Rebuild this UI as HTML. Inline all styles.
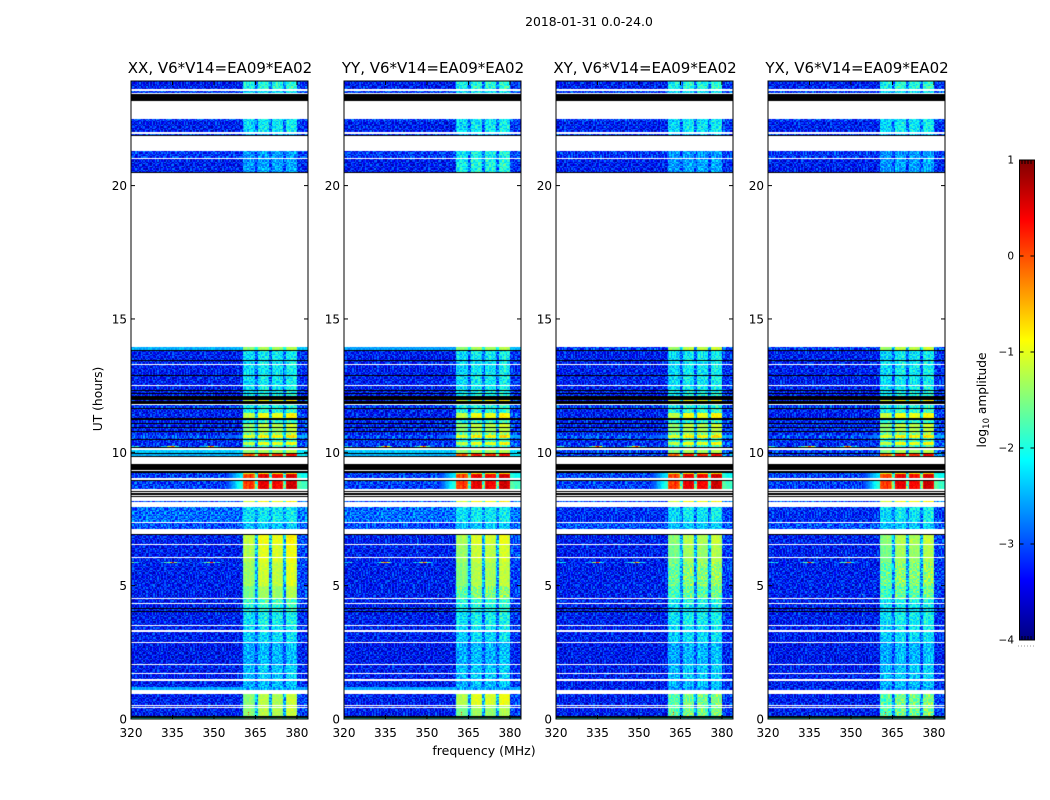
<!DOCTYPE html>
<html lang="en">
<head>
<meta charset="utf-8">
<title>2018-01-31 0.0-24.0</title>
<style>
html,body{margin:0;padding:0;background:#fff;}
#figure{position:relative;width:1050px;height:800px;overflow:hidden;background:#fff;}
#figure canvas{position:absolute;display:block;}
#overlay{position:absolute;left:0;top:0;}
text{font-family:"DejaVu Sans","Liberation Sans",sans-serif;fill:#000;}
</style>
</head>
<body>
<div id="figure">
<svg id="overlay" width="1050" height="800" viewBox="0 0 1050 800">
<text x="589" y="26" text-anchor="middle" font-size="12.4">2018-01-31 0.0-24.0</text>
<text x="484" y="755" text-anchor="middle" font-size="12.5">frequency (MHz)</text>
<text transform="translate(102 399) rotate(-90)" text-anchor="middle" font-size="12.3">UT (hours)</text>
<text transform="translate(986 400) rotate(-90)" text-anchor="middle" font-size="12.2">log<tspan font-size="8.5" dy="3">10</tspan><tspan dy="-3"> amplitude</tspan></text>
</svg>
</div>
<script>
/* Time bands, top to bottom: edges in UT hours, null = no data (white), -9 = flagged (black) */
var bandEdges = [23.92,23.62,23.53,23.47,23.43,23.18,22.50,22.44,22.01,21.95,21.90,
21.86,21.30,21.04,21.00,20.51,20.47,13.94,13.84,13.80,13.46,
13.42,13.31,13.27,12.90,12.86,12.54,12.50,12.34,12.30,12.22,
12.19,12.11,11.96,11.92,11.81,11.77,11.66,11.62,11.47,11.29,
11.21,11.09,11.05,10.94,10.90,10.80,10.76,10.65,10.55,10.51,
10.46,10.40,10.27,10.24,10.20,10.15,10.09,9.96,9.94,9.86,
9.83,9.57,9.34,9.30,9.21,9.17,9.04,8.95,8.92,8.61,
8.55,8.51,8.49,8.40,8.36,8.34,8.19,8.13,7.96,7.40,
7.35,7.12,6.95,6.91,6.56,6.51,6.06,6.03,5.88,5.85,
5.00,4.54,4.50,4.35,4.31,4.15,4.11,4.05,4.01,3.52,
3.49,3.34,3.26,2.89,2.85,2.06,2.02,1.72,1.69,1.50,
1.44,1.21,1.09,0.94,0.52,0.49,0.45,0.41,0.12,0.10,
0.07,0.05,0];
/* Background log10 amplitude of each time band */
var bandBase = [-3.3,null,-3.1,null,-9,null,-3.1,-3.3,null,-3.1,
-9,null,-3.15,null,-3.3,-9,null,-2.5,-9,-3.3,
-9,-3.3,null,-3.3,-9,-3.3,null,-3.3,-9,-3.3,
-9,-3.3,-9,-3.3,-9,null,-3.1,-9,-3.3,-3.3,
-9,-3.25,-9,-3.25,-9,-3.25,-9,-3.25,-3.0,-3.2,
-9,-3.2,-3.2,-3.2,-3.2,-9,null,-2.4,-9,-2.5,
-9,null,-9,null,-9,-3.1,-3.1,null,-9,-3.1,
null,-9,null,-9,null,-9,null,-3.0,null,-2.85,
null,-3.0,null,-9,-3.3,null,-3.3,null,-3.3,-3.3,
-3.3,-3.3,null,-3.3,null,-3.3,-9,-3.3,-9,-3.3,
null,-3.3,null,-3.3,null,-3.35,null,-3.3,null,-3.3,
null,-3.3,-2.55,null,-3.3,null,-3.3,null,-3.3,-9,
null,-9,-1.9];
/* Log10 amplitude inside the 360-380 MHz signal band, XX panel */
var bandSignal = [-1.95,null,-2.2,null,null,null,-2.2,-2.15,null,-2.5,
null,null,-2.6,null,-2.55,null,null,-1.3,null,-2.15,
null,-2.15,null,-2.15,null,-2.15,null,-2.1,null,-2.1,
null,-2.0,null,-0.9,null,null,-2.0,null,-1.95,-0.95,
null,-1.9,null,-1.2,null,-1.3,null,-1.4,-0.8,-2.0,
null,-1.8,-0.95,-1.8,-1.8,null,null,-1.3,null,0.2,
null,null,null,null,null,-0.8,0.4,null,null,0.45,
null,null,null,null,null,null,null,-0.9,null,-2.15,
null,-2.35,null,null,-0.95,null,-1.05,null,-1.05,-1.1,
-1.15,-1.35,null,-1.75,null,-1.85,null,-1.95,null,-2.1,
null,-2.2,null,-2.25,null,-2.45,null,-2.35,null,-2.35,
null,-2.4,-2.55,null,-1.25,null,-1.25,null,-1.25,null,
null,null,-1.6];
/* Per-panel corrections: band (by its UT start), panel index, base, signal (null = keep) */
var overrideStarts = [0.94,0.52,0.45,21.30,21.00,
  13.94,13.94,10.09,10.09,9.94,9.94,1.21,1.21,7.96,7.96,13.94];
var overridePanels = [1,1,1,1,1,
  2,3,2,3,2,3,2,3,2,3,1];
var overrideBases = [null,null,null,null,null,
  -3.1,-3.1,-3.1,-3.1,-3.1,-3.1,-3.3,-3.3,-3.2,-3.2,-2.6];
var overrideSignals = [-1.05,-1.05,-1.05,-2.1,-2.0,
  -1.2,-1.2,null,null,null,null,null,null,null,null,null];
/* Bands where energy spills out of the signal band */
var skirtBandStarts = [10.65,9.21,9.17,8.92];
var skirtLevels = [-2.7,-2.2,-2.2,-1.9];
/* Narrow-band interference rows: band starts, then boost per channel from 320 MHz */
var streakBandStarts = [5.88,10.24];
var streakBoost = [1.2,1.2,1.1,1,1,.9,.6,.2,0,0,0,0,0,0,0,0,0,0,0,0,
.1,.2,.4,.7,1,1.3,1.5,1.8,2.2,3.2,3.6,2.4,1.8,1.2,.8,.4,0,0,0,0,
0,.5,.6,0,0,0,0,0,.2,.3,.5,.7,1,1.2,1.5,1.8,2.4,3.4,3.2,2.2,
1.6,1,.9,.8,.4,.2,0,0,0,0,.3,.4,0,0,0,0,0,0,0,0,0];
/* Relative signal per 0.5 MHz channel, from 320 MHz */
var channelSignal = [0,0,0,0,0,0,0,0,0,0,0,0,0,0,0,0,0,0,0,0,
0,0,0,0,0,0,0,0,0,0,0,0,0,0,0,0,0,0,0,0,
0,0,0,0,0,0,0,0,0,0,0,0,0,0,0,0,0,0,0,0,
0,0,0,0,0,0,0,0,0,0,0,0,0,0,0,0,0,0,0,0,0,
.85,.9,.92,.88,.92,.95,.9,.88,.8,
.38,.38,
.98,1.02,1.02,1,1.02,1.03,1,.98,
.38,.38,
.95,1,1,.98,.98,.98,.98,.93,
.38,.38,
1,1.05,1.06,1.06,1.05,1.05,1.03,.98,
.1,.12,.12,.1,.1,.12,.12,.1];
/* Relative spill level per channel */
var channelSkirt = [0,0,0,0,0,0,0,0,0,0,0,0,0,0,0,0,0,0,0,0,
0,0,0,0,0,0,0,0,0,0,0,0,0,0,0,0,0,0,0,0,
0,0,0,0,0,0,0,0,0,0,0,0,0,0,0,0,0,0,0,0,
0,0,0,0,0,0,0,0,0,.05,.1,.2,.3,.4,.5,.6,.7,.8,.9,.95,1,
0,0,0,0,0,0,0,0,0,0,0,0,0,0,0,0,0,0,0,
0,0,0,0,0,0,0,0,0,0,0,0,0,0,0,0,0,0,0,0,
.85,.85,.8,.8,.75,.75,.7,.7];
/* Isolated hot cells */
var hotFreqs = [362.2,362.2,354,354,354,346.4,346.4,346.4];
var hotTimes = [0.26,0.2,4.7,3.9,3.6,6.8,6.6,6.25];
var hotLevels = [0.2,-0.2,-1.6,-1.6,-2.0,-1.8,-1.8,-1.8];
/* Hand-typed cell-to-cell texture tile (0-9), standing in for noise too fine to read per cell */
var textureTile = ["37158204962715380649271","82046391527048163957204","15739062841639270518346",
"60482715936048291735180","29517380462917506384926","74063958120483695172048",
"41892067351826940573612","93650412789360127485093","08217563940271856309481",
"56398120764935018276459","21745938062184739560127","69083471526740392185763",
"34916205873052681497230","87250649318529740361958","12674083952716038495276",
"95308762140483925617084","48162539706291473805619"];
var panelTitles = ["XX, V6*V14=EA09*EA02","YY, V6*V14=EA09*EA02","XY, V6*V14=EA09*EA02","YX, V6*V14=EA09*EA02"];
var panelSignalOffset = [0,-0.12,-0.3,-0.3];
var freqTicks = [320,335,350,365,380];
var timeTicks = [0,5,10,15,20];
var colorbarTicks = [1,0,-1,-2,-3,-4];

var SVGNS = "http://www.w3.org/2000/svg";
var figure = document.getElementById("figure");
var overlay = document.getElementById("overlay");
var panelLefts = [131,344,556,768];
var panelWidth = 177, plotTop = 81, plotBottom = 719;
var FMIN = 320, FMAX = 384, VMIN = -4, VMAX = 1;
var OFFSET_BELOW_UT = 8;

function clamp01(v){return Math.max(0,Math.min(1,v));}
function jet(t){
  var r = clamp01(1.5-Math.abs(4*t-3)), g = clamp01(1.5-Math.abs(4*t-2)), b = clamp01(1.5-Math.abs(4*t-1));
  return "rgb("+Math.round(r*255)+","+Math.round(g*255)+","+Math.round(b*255)+")";
}
function levelColor(v){return jet(clamp01((v-VMIN)/(VMAX-VMIN)));}
function xScale(f,left){return left+(f-FMIN)/(FMAX-FMIN)*panelWidth;}
function yScale(ut){return plotBottom-ut*26.67;}
function colorbarY(v){return 160+(VMAX-v)/(VMAX-VMIN)*480;}
function svgEl(tag,attrs){
  var el = document.createElementNS(SVGNS,tag);
  for(var k in attrs){el.setAttribute(k,attrs[k]);}
  return el;
}
function tickLine(x1,y1,x2,y2){
  return svgEl("line",{x1:x1,y1:y1,x2:x2,y2:y2,stroke:"#000","stroke-width":1});
}

function drawHeatmap(ctx,p){
  for(var b=0;b<bandBase.length;b++){
    var base = bandBase[b];
    if(base===null){continue;}
    var start = bandEdges[b];
    var y0 = Math.round(yScale(start)), y1 = Math.max(y0+1,Math.round(yScale(bandEdges[b+1])));
    if(base===-9){
      ctx.fillStyle="#000";
      ctx.fillRect(0,y0-plotTop,panelWidth,y1-y0);
      continue;
    }
    var signal = bandSignal[b];
    if(start<OFFSET_BELOW_UT&&signal>-2.1){signal+=panelSignalOffset[p];}
    for(var o=0;o<overrideStarts.length;o++){
      if(overrideStarts[o]===start&&overridePanels[o]===p){
        if(overrideBases[o]!==null){base=overrideBases[o];}
        if(overrideSignals[o]!==null){signal=overrideSignals[o];}
      }
    }
    var sk = skirtBandStarts.indexOf(start);
    var streak = streakBandStarts.indexOf(start)>=0;
    var amp = base<-2.8?0.55:0.18;
    var signalAmp = signal>-1.4?0.14:0.42;
    var row = 0;
    for(var y=y0;y<y1;y+=1.33){
      var ry0 = Math.round(y), ry1 = Math.min(y1,Math.max(ry0+1,Math.round(y+1.33)));
      var line = textureTile[(row+b*5+p*3)%textureTile.length];
      for(var c=0;c<channelSignal.length;c++){
        var spec = channelSignal[c];
        var v = base+(signal-base)*spec;
        if(sk>=0){v+=(skirtLevels[sk]-base)*channelSkirt[c];}
        if(streak&&c<streakBoost.length){v+=streakBoost[c];}
        var digit = +line.charAt((c+b*3+p*7)%line.length);
        var a = spec>0.5?signalAmp:amp;
        if(sk>=0&&channelSkirt[c]>0){a=0.1;}
        v += (digit-4.5)/4.5*a;
        var x0 = Math.round(xScale(FMIN+c*0.5,0)), x1 = Math.round(xScale(FMIN+(c+1)*0.5,0));
        ctx.fillStyle = levelColor(v);
        ctx.fillRect(x0,ry0-plotTop,x1-x0,ry1-ry0);
      }
      row++;
    }
  }
  for(var h=0;h<hotFreqs.length;h++){
    ctx.fillStyle = levelColor(hotLevels[h]);
    ctx.fillRect(Math.round(xScale(hotFreqs[h],0)),Math.round(yScale(hotTimes[h]))-plotTop,1,1);
  }
}

panelLefts.forEach(function(left,p){
  var cv = document.createElement("canvas");
  
  
  cv.width = panelWidth; cv.height = plotBottom-plotTop;
  cv.style.left = left+"px"; cv.style.top = plotTop+"px";
  figure.insertBefore(cv,overlay);
  drawHeatmap(cv.getContext("2d"),p);

  var g = svgEl("g",{});
  
  
  var frame = svgEl("rect",{x:left,y:plotTop,width:panelWidth,height:plotBottom-plotTop,fill:"none",stroke:"#000","stroke-width":1});
  
  
  g.appendChild(frame);

  var title = svgEl("text",{x:left+89,y:73,"text-anchor":"middle","font-size":15});
  
  
  title.textContent = panelTitles[p];
  g.appendChild(title);

  freqTicks.forEach(function(f){
    var x = xScale(f,left);
    g.appendChild(tickLine(x,plotBottom,x,plotBottom-4));
    g.appendChild(tickLine(x,plotTop,x,plotTop+4));
    var t = svgEl("text",{x:x,y:737,"text-anchor":"middle","font-size":12});
    
    
    t.textContent = f;
    g.appendChild(t);
  });
  timeTicks.forEach(function(u){
    var y = yScale(u);
    g.appendChild(tickLine(left,y,left+4,y));
    g.appendChild(tickLine(left+panelWidth,y,left+panelWidth-4,y));
    var t = svgEl("text",{x:left-4,y:y+4.5,"text-anchor":"end","font-size":12});
    
    
    t.textContent = u;
    g.appendChild(t);
  });
  overlay.appendChild(g);
});

/* Colorbar */
(function(){
  var g = svgEl("g",{});
  
  
  var defs = svgEl("defs",{});
  var grad = svgEl("linearGradient",{id:"jetGradient",x1:0,y1:1,x2:0,y2:0});
  for(var i=0;i<=32;i++){
    grad.appendChild(svgEl("stop",{offset:(i/32),"stop-color":jet(i/32)}));
  }
  defs.appendChild(grad);
  g.appendChild(defs);
  var bar = svgEl("rect",{x:1019.5,y:160,width:15,height:480,fill:"url(#jetGradient)",stroke:"#000","stroke-width":1});
  
  
  g.appendChild(bar);
  colorbarTicks.forEach(function(v){
    var y = colorbarY(v);
    g.appendChild(tickLine(1019.5,y,1023.5,y));
    g.appendChild(tickLine(1034.5,y,1030.5,y));
    var t = svgEl("text",{x:1014,y:y+3.5,"text-anchor":"end","font-size":10.5});
    
    
    t.textContent = v<0?("\u2212"+Math.abs(v)):v;
    g.appendChild(t);
  });
  [1022,1025,1028,1031].forEach(function(x){
    g.appendChild(tickLine(x,160,x,164));
    g.appendChild(tickLine(x,640,x,636));
  });
  var dots = svgEl("line",{x1:1018,y1:646,x2:1035,y2:646,stroke:"#999","stroke-width":1,"stroke-dasharray":"1 2"});
  
  
  g.appendChild(dots);
  overlay.appendChild(g);
})();
</script>
</body>
</html>
